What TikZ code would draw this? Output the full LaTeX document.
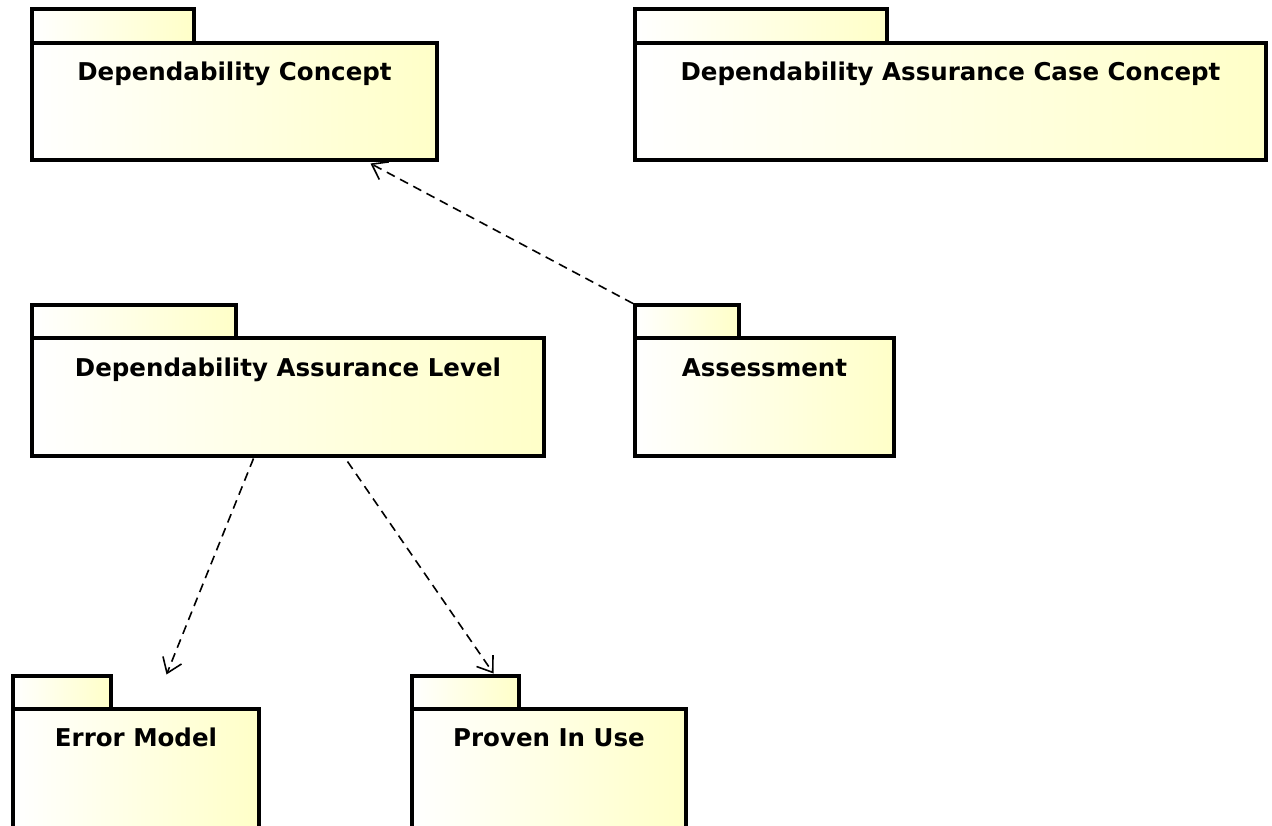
\documentclass[tikz,border=0pt]{standalone}
\usepackage{fontspec}
\setmainfont{DejaVu Sans}
\usetikzlibrary{arrows.meta,positioning}
\definecolor{packageColor}{RGB}{255,255,200}
\tikzset{package/.style={draw, line width=4pt, outer sep=0pt, inner sep=0pt, left color=white, right color=packageColor, anchor=north west, align=center, font=\fontsize{24.5}{29}\selectfont\bfseries, text height=37.5pt, text depth=79.5pt}}
\tikzset{tab/.style={draw, line width=4pt, outer sep=0pt, inner sep=0pt, left color=white, right color=packageColor, minimum height=33pt}}
\tikzset{dependency/.style={line width=1.6pt, dash pattern=on 9pt off 6pt, -{Straight Barb[length=14pt, width=20pt]}}}

\begin{document}
\begin{tikzpicture}[x=1pt, y=-1pt]
\useasboundingbox (0,0) rectangle (1272,826);
% Nodes
\node (dc) [package, minimum width=405pt] at (32,43.5) {Dependability Concept};
\node (dc_tab) [tab, minimum width=161.5pt, minimum height=34pt, above right=0pt and 0pt of dc.north west] {};

\node (dacc) [package, minimum width=631pt] at (635,43.5) {Dependability Assurance Case Concept};
\node (dacc_tab) [tab, minimum width=252pt, minimum height=34pt, above right=0pt and 0pt of dacc.north west] {};

\node (dal) [package, minimum width=512pt] at (32,338.5) {Dependability Assurance Level};
\node (dal_tab) [tab, minimum width=204pt, above right=0pt and 0pt of dal.north west] {};

\node (assessment) [package, minimum width=259pt] at (635,338.5) {Assessment};
\node (assessment_tab) [tab, minimum width=104pt, above right=0pt and 0pt of assessment.north west] {};

\node (error_model) [package, minimum width=246pt, text depth=89pt] at (13,708.5) {Error Model};
\node (error_model_tab) [tab, minimum width=98pt, above right=0pt and 0pt of error_model.north west] {};

\node (proven_in_use) [package, minimum width=274pt, text depth=89pt] at (412,708.5) {Proven In Use};
\node (proven_in_use_tab) [tab, minimum width=107pt, above right=0pt and 0pt of proven_in_use.north west] {};

% Connectors
\draw [dependency] ([xshift=-2pt,yshift=2pt]assessment_tab.north west) -- ([xshift=136pt,yshift=-3pt]dc.south);
\draw [dependency] ([xshift=-34.5pt,yshift=-3pt]dal.south) -- ([xshift=55.5pt,yshift=1pt]error_model_tab.north east);
\draw [dependency] ([xshift=59.5pt,yshift=-6pt]dal.south) -- ([xshift=28pt,yshift=2pt]proven_in_use_tab.north);

\end{tikzpicture}
\end{document}
